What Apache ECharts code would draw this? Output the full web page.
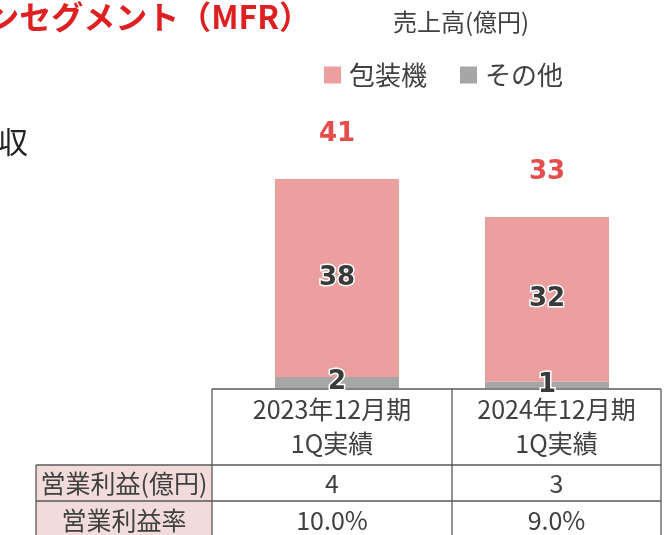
<!DOCTYPE html>
<html>
<head>
<meta charset="utf-8">
<script src="https://cdn.jsdelivr.net/npm/echarts@6/dist/echarts.min.js"></script>
<style>
html,body{margin:0;padding:0;background:#fff;}
#chart{width:669px;height:535px;}
</style>
</head>
<body>
<div id="chart"></div>
<script>
// ---- data ----
const categories = ['2023年12月期', '2024年12月期'];
const periodSub = ['1Q実績', '1Q実績'];
const seriesNames = ['包装機', 'その他'];
const packaging = [38.1, 31.7];   // 包装機
const others = [2.1, 1.2];        // その他
const packagingLabels = ['38', '32'];
const otherLabels = ['2', '1'];
const totalLabels = ['41', '33'];
const rowLabels = ['営業利益(億円)', '営業利益率'];
const operatingProfit = ['4', '3'];
const operatingMargin = ['10.0%', '9.0%'];

const totals = packaging.map((v, i) => v + others[i]);

const JP = '"Noto Sans CJK JP", "Noto Sans", sans-serif';
const NUM = '"DejaVu Sans", "Noto Sans", sans-serif';
const TXT = '#404040';
const LINE = '#595959';
const RED = '#e02020';

const chart = echarts.init(document.getElementById('chart'), null, {renderer: 'canvas'});

// table geometry
const colX = [212, 452, 661];
const labelLeft = 36;
const rowY = [389, 465, 501, 540];
const colCenter = [(colX[0] + colX[1]) / 2, (colX[1] + colX[2]) / 2];

const graphics = [];
graphics.push({type: 'rect', shape: {x: labelLeft, y: rowY[1], width: colX[0] - labelLeft, height: rowY[3] - rowY[1]}, style: {fill: '#f2dcdb'}, z: 1});
function line(x1, y1, x2, y2) {
  graphics.push({type: 'line', shape: {x1, y1, x2, y2}, style: {stroke: LINE, lineWidth: 1.3}, z: 2});
}
line(colX[0], rowY[0], colX[2], rowY[0]);
line(labelLeft, rowY[1], colX[2], rowY[1]);
line(labelLeft, rowY[2], colX[2], rowY[2]);
colX.forEach(x => line(x, rowY[0], x, rowY[3]));
line(labelLeft, rowY[1], labelLeft, rowY[3]);

function txt(text, x, y, opt) {
  graphics.push({type: 'text', x, y, z: 3, style: Object.assign({
    text, fill: TXT, font: '25px ' + JP, textAlign: 'center', textVerticalAlign: 'middle'
  }, opt || {})});
}
categories.forEach((c, i) => {
  txt(c, colCenter[i], 409);
  txt(periodSub[i], colCenter[i], 443);
  txt(operatingProfit[i], colCenter[i], 483);
  txt(operatingMargin[i], colCenter[i], 520);
});
txt(rowLabels[0], (labelLeft + colX[0]) / 2, 483);
txt(rowLabels[1], (labelLeft + colX[0]) / 2, 520);

// slide fragments
txt('ンセグメント（MFR）', 311, 17, {fill: RED, font: 'bold 32px ' + JP, textAlign: 'right'});
txt('収', 28, 142, {fill: '#222', font: '30px ' + JP, textAlign: 'right'});
txt('売上高(億円)', 461, 22, {font: '24px ' + JP});

const innerLabel = (arr) => ({
  show: true, position: 'inside',
  formatter: p => arr[p.dataIndex],
  color: '#3a3a3a', fontFamily: NUM, fontWeight: 'bold', fontSize: 26,
  textBorderColor: '#fff', textBorderWidth: 3
});

chart.setOption({
  animation: false,
  grid: {left: 232, right: 17, top: 128, bottom: 147},
  legend: {
    data: seriesNames,
    left: 324, top: 62, padding: 0,
    itemWidth: 17, itemHeight: 17, itemGap: 33,
    icon: 'rect',
    textStyle: {fontFamily: JP, fontSize: 26, color: TXT, padding: [0, 0, 0, 3]}
  },
  xAxis: {
    type: 'category', data: categories,
    axisLine: {show: false}, axisTick: {show: false}, axisLabel: {show: false}
  },
  yAxis: {type: 'value', min: 0, max: 50, show: false, splitLine: {show: false}},
  series: [
    {
      name: seriesNames[1], type: 'bar', stack: 'sales', data: others,
      barWidth: 124, itemStyle: {color: '#a6a6a6'},
      label: innerLabel(otherLabels), z: 3
    },
    {
      name: seriesNames[0], type: 'bar', stack: 'sales', data: packaging,
      barWidth: 124, itemStyle: {color: '#eb9f9f'},
      label: innerLabel(packagingLabels), z: 2
    },
    {
      name: 'total', type: 'scatter', data: totals, symbolSize: 0,
      silent: true, legendHoverLink: false,
      label: {
        show: true, position: 'top', distance: 32,
        formatter: p => totalLabels[p.dataIndex],
        color: RED, fontFamily: NUM, fontWeight: 'bold', fontSize: 26
      }
    }
  ],
  graphic: graphics
});
</script>
</body>
</html>
